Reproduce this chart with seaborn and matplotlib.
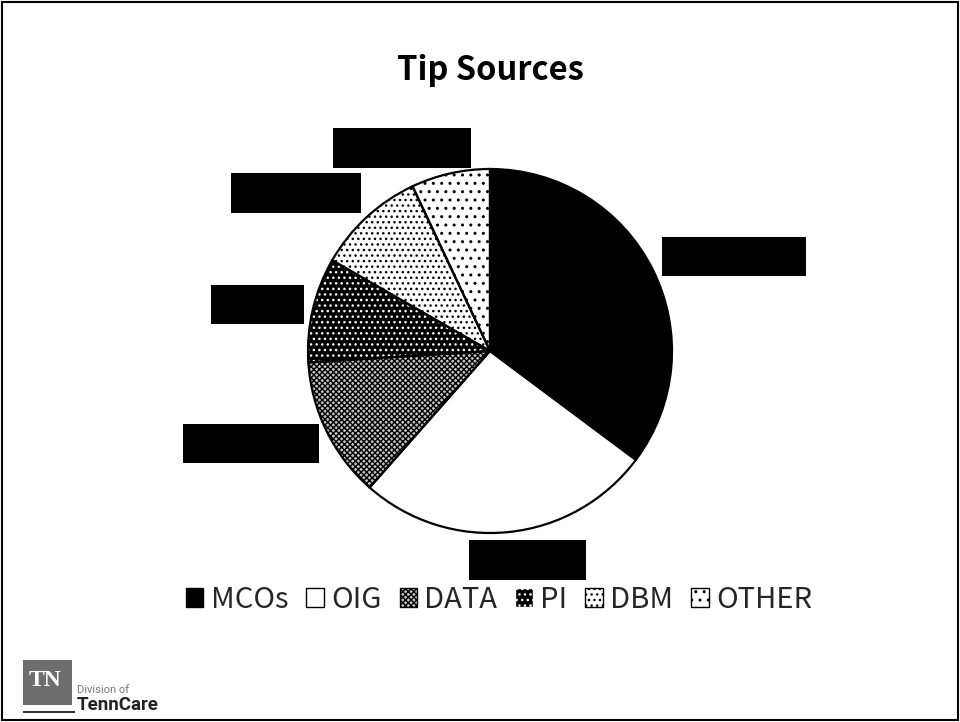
import matplotlib
matplotlib.use("Agg")
import matplotlib.pyplot as plt
from matplotlib.patches import Rectangle, Patch
import seaborn as sns

sns.set_theme(style="white")
plt.rcParams['font.family'] = ['Noto Sans CJK JP', 'DejaVu Sans']
plt.rcParams['hatch.linewidth'] = 1.0

# ---- data ----
categories = ["MCOs", "OIG", "DATA", "PI", "DBM", "OTHER"]
shares = [35.2, 26.3, 12.5, 9.3, 9.7, 7.0]
title = "Tip Sources"

face_colors = ["black", "white", "#c4c4c4", "black", "white", "white"]
hatch_colors = ["black", "white", "black", "white", "black", "black"]
hatches = [None, None, "xxxxxx", "...", "...", ".."]

fig = plt.figure(figsize=(9.6, 7.22), dpi=100)

# pie axes: center (490,351) px, radius ~181 px
cx, cy, r = 490, 351, 182
ax = fig.add_axes([(cx - r) / 960, 1 - (cy + r) / 722, 2 * r / 960, 2 * r / 722])
wedges, _ = ax.pie(shares, startangle=90, counterclock=False, colors=face_colors,
                   wedgeprops=dict(linewidth=0))
for w, h, hc in zip(wedges, hatches, hatch_colors):
    if h:
        w.set_hatch(h)
    w.set_edgecolor(hc)
    w.set_linewidth(0)
ax.pie(shares, startangle=90, counterclock=False,
       wedgeprops=dict(fill=False, edgecolor="black", linewidth=1.6))
ax.set_xlim(-1.0, 1.0)
ax.set_ylim(-1.0, 1.0)
ax.axis("off")

# title
fig.text(490 / 960, 1 - 80 / 722, title, ha="center", va="baseline",
         fontsize=23.5, fontweight="bold", color="black")

# redacted data label boxes (x0, y0, w, h) in pixels
boxes = [(333, 128, 138, 40), (231, 173, 130, 40), (662, 237, 144, 39),
         (211, 285, 93, 39), (183, 424, 136, 39), (469, 540, 117, 40)]
for x0, y0, bw, bh in boxes:
    fig.add_artist(Rectangle((x0 / 960, 1 - (y0 + bh) / 722), bw / 960, bh / 722,
                             transform=fig.transFigure, facecolor="black",
                             edgecolor="none"))

# legend
handles = []
for fc, hc, h in zip(face_colors, hatch_colors, hatches):
    p = Patch(facecolor=fc, edgecolor=("black" if fc != "black" else hc), hatch=h,
              linewidth=1.0)
    handles.append(p)
leg = fig.legend(handles, categories, loc="center", bbox_to_anchor=(499 / 960, 1 - 600 / 722),
                 ncol=6, frameon=False, fontsize=21, handlelength=0.6, handleheight=0.6,
                 handletextpad=0.25, columnspacing=0.62, borderaxespad=0)

# figure border
fig.add_artist(Rectangle((0.002, 0.003), 0.996, 0.994, transform=fig.transFigure,
                         fill=False, edgecolor="black", linewidth=1.5))

# logo
fig.add_artist(Rectangle((23 / 960, 1 - 705 / 722), 49 / 960, 45 / 722,
                         transform=fig.transFigure, facecolor="#6d6d6d", edgecolor="none"))
fig.add_artist(Rectangle((23 / 960, 1 - 713 / 722), 52 / 960, 2.5 / 722,
                         transform=fig.transFigure, facecolor="#333333", edgecolor="none"))
fig.text(45 / 960, 1 - 681 / 722, "TN", ha="center", va="center", color="white",
         fontsize=17, family="Liberation Serif", fontweight="bold")
fig.text(77 / 960, 1 - 690 / 722, "Division of", ha="left", va="center",
         color="#777777", fontsize=8, family="Roboto")
fig.text(77 / 960, 1 - 705 / 722, "TennCare", ha="left", va="center",
         color="#222222", fontsize=13.5, fontweight="bold", family="Roboto")

fig.savefig("out.png", dpi=100)
